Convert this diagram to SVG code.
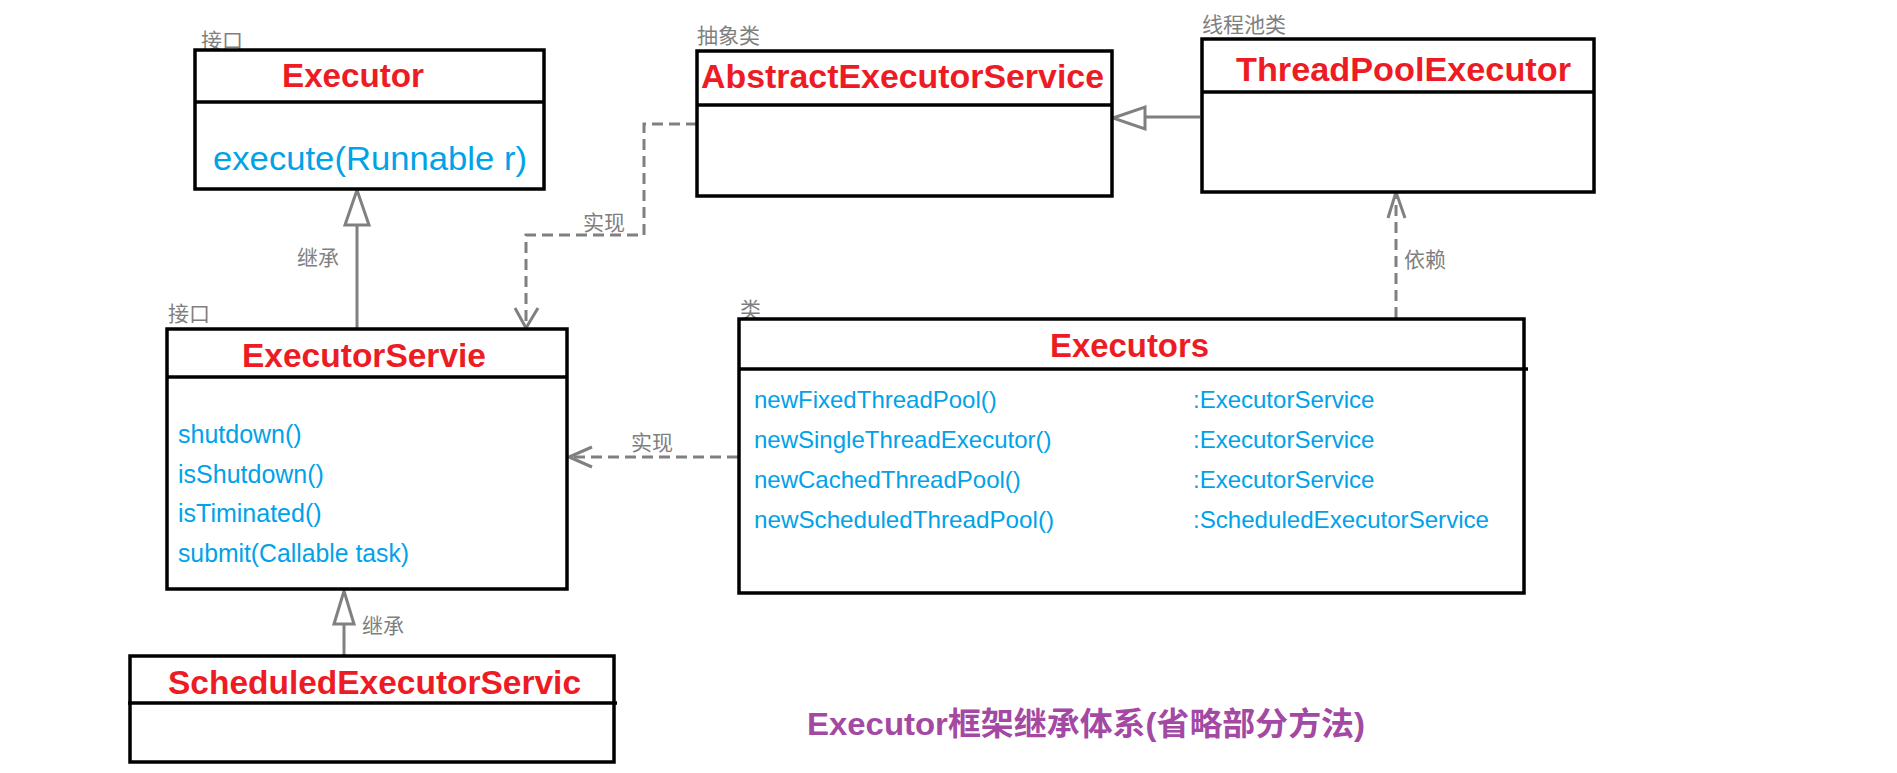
<svg xmlns="http://www.w3.org/2000/svg" width="1897" height="773" viewBox="0 0 1897 773">
<style>
.box{fill:#fff;stroke:#000;stroke-width:3.5}
.div{stroke:#000;stroke-width:3.5;fill:none}
.title{font-family:"Liberation Sans","Noto Sans CJK SC",sans-serif;font-weight:bold;font-size:33px;fill:#ed1c24}
.m{font-family:"Liberation Sans","Noto Sans CJK SC",sans-serif;fill:#00a2e8}
.st{font-family:"Noto Sans CJK SC",sans-serif;font-size:21px;fill:#7f7f7f}
.lbl{font-family:"Noto Sans CJK SC",sans-serif;font-size:21px;fill:#7f7f7f}
.ln{stroke:#808080;stroke-width:3;fill:none}
.dash{stroke:#808080;stroke-width:3;fill:none;stroke-dasharray:11 6}
.tri{fill:#fff;stroke:#808080;stroke-width:3}
.cap{font-family:"Liberation Sans","Noto Sans CJK SC",sans-serif;font-weight:bold;font-size:32px;fill:#a349a4}
</style>
<rect width="1897" height="773" fill="#fff"/>
<g id="connectors">
<line class="ln" x1="357" y1="328" x2="357" y2="225"/>
<polygon class="tri" points="357,190 345,225 369,225"/>
<path class="dash" d="M697,124 H644 V235 H526 V326"/>
<path class="ln" d="M515,308 L526,328 L538,308"/>
<line class="ln" x1="1200" y1="117" x2="1145" y2="117"/>
<polygon class="tri" points="1113,118 1145,107 1145,129"/>
<line class="dash" x1="1396" y1="318" x2="1396" y2="194"/>
<path class="ln" d="M1388,218 L1396,192 L1405,218"/>
<line class="dash" x1="738" y1="457" x2="570" y2="457"/>
<path class="ln" d="M592,447 L569,457 L592,467"/>
<line class="ln" x1="344" y1="655" x2="344" y2="624"/>
<polygon class="tri" points="344,591 334,624 354,624"/>
<text class="lbl" x="297" y="265">继承</text>
<text class="lbl" x="583" y="230">实现</text>
<text class="lbl" x="1404" y="267">依赖</text>
<text class="lbl" x="631" y="450">实现</text>
<text class="lbl" x="362" y="633">继承</text>
</g>
<g id="executor">
<text class="st" x="201" y="48">接口</text>
<rect class="box" x="195" y="50" width="349" height="139"/>
<line class="div" x1="195" y1="102" x2="544" y2="102"/>
<text class="title" x="282" y="87" textLength="142" lengthAdjust="spacingAndGlyphs">Executor</text>
<text class="m" x="213" y="170" font-size="33" textLength="314" lengthAdjust="spacingAndGlyphs">execute(Runnable r)</text>
</g>
<g id="abstractExecutorService">
<text class="st" x="697" y="43">抽象类</text>
<rect class="box" x="697" y="51" width="415" height="145"/>
<line class="div" x1="697" y1="105" x2="1112" y2="105"/>
<text class="title" x="701" y="88" textLength="403" lengthAdjust="spacingAndGlyphs">AbstractExecutorService</text>
</g>
<g id="threadPoolExecutor">
<text class="st" x="1202" y="32">线程池类</text>
<rect class="box" x="1202" y="39" width="392" height="153"/>
<line class="div" x1="1202" y1="92" x2="1594" y2="92"/>
<text class="title" x="1236" y="81" textLength="335" lengthAdjust="spacingAndGlyphs">ThreadPoolExecutor</text>
</g>
<g id="executorService">
<text class="st" x="168" y="321">接口</text>
<rect class="box" x="167" y="329" width="400" height="260"/>
<line class="div" x1="167" y1="377" x2="568" y2="377"/>
<text class="title" x="242" y="367" textLength="244" lengthAdjust="spacingAndGlyphs">ExecutorServie</text>
<text class="m" x="178" y="443" font-size="25">shutdown()</text>
<text class="m" x="178" y="483" font-size="25">isShutdown()</text>
<text class="m" x="178" y="522" font-size="25">isTiminated()</text>
<text class="m" x="178" y="562" font-size="25" textLength="231" lengthAdjust="spacingAndGlyphs">submit(Callable task)</text>
</g>
<g id="executors">
<text class="st" x="740" y="317">类</text>
<rect class="box" x="739" y="319" width="785" height="274"/>
<line class="div" x1="739" y1="369" x2="1528" y2="369"/>
<text class="title" x="1050" y="357" textLength="159" lengthAdjust="spacingAndGlyphs">Executors</text>
<text class="m" x="754" y="408" font-size="24">newFixedThreadPool()</text>
<text class="m" x="754" y="448" font-size="24">newSingleThreadExecutor()</text>
<text class="m" x="754" y="488" font-size="24">newCachedThreadPool()</text>
<text class="m" x="754" y="528" font-size="24" textLength="300" lengthAdjust="spacingAndGlyphs">newScheduledThreadPool()</text>
<text class="m" x="1193" y="408" font-size="24">:ExecutorService</text>
<text class="m" x="1193" y="448" font-size="24">:ExecutorService</text>
<text class="m" x="1193" y="488" font-size="24">:ExecutorService</text>
<text class="m" x="1193" y="528" font-size="24" textLength="296" lengthAdjust="spacingAndGlyphs">:ScheduledExecutorService</text>
</g>
<g id="scheduledExecutorService">
<rect class="box" x="130" y="656" width="484" height="106"/>
<line class="div" x1="128" y1="703" x2="617" y2="703"/>
<text class="title" x="168" y="694" textLength="413" lengthAdjust="spacingAndGlyphs">ScheduledExecutorServic</text>
</g>
<g id="caption">
<text class="cap" x="807" y="735" textLength="558" lengthAdjust="spacingAndGlyphs">Executor框架继承体系(省略部分方法)</text>
</g>
</svg>
